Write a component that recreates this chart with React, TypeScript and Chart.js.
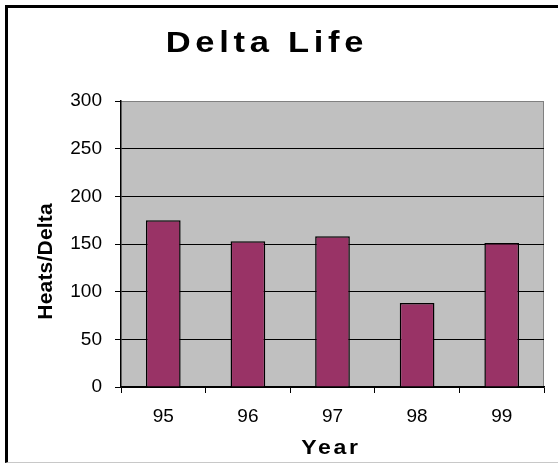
import React, { useEffect, useRef } from "react";
import { Chart, registerables } from "chart.js";

Chart.register(...registerables);

// ---- data ----
const chartTitle = "Delta Life";
const xAxisTitle = "Year";
const yAxisTitle = "Heats/Delta";
const years = ["95", "96", "97", "98", "99"];
const heatsPerDelta = [175, 153, 158, 88, 151];
const yMin = 0;
const yMax = 300;
const yStep = 50;

const FONT = '"Liberation Sans", Arial, sans-serif';

function spacedText(
  ctx: CanvasRenderingContext2D,
  text: string,
  cx: number,
  baseline: number,
  font: string,
  spacing: number,
  stretch: number,
  rotate = false
) {
  ctx.save();
  ctx.font = font;
  (ctx as any).letterSpacing = spacing + "px";
  ctx.fillStyle = "#000";
  ctx.textAlign = "left";
  ctx.textBaseline = "alphabetic";
  const w = ctx.measureText(text).width - spacing;
  if (rotate) {
    ctx.translate(baseline, cx);
    ctx.rotate(-Math.PI / 2);
    ctx.scale(stretch, 1);
    ctx.fillText(text, -w / 2, 0);
  } else {
    ctx.translate(cx, baseline);
    ctx.scale(stretch, 1);
    ctx.fillText(text, -w / 2, 0);
  }
  ctx.restore();
}

const plotBackground = {
  id: "plotBackground",
  beforeDraw(chart: any) {
    const { ctx, chartArea: a } = chart;
    ctx.save();
    ctx.fillStyle = "#c0c0c0";
    ctx.fillRect(a.left, a.top, a.right - a.left, a.bottom - a.top);
    ctx.strokeStyle = "#808080";
    ctx.lineWidth = 1;
    ctx.beginPath();
    ctx.moveTo(a.left, Math.round(a.top) + 0.5);
    ctx.lineTo(Math.round(a.right) - 0.5, Math.round(a.top) + 0.5);
    ctx.lineTo(Math.round(a.right) - 0.5, a.bottom);
    ctx.stroke();
    ctx.restore();
  },
};

const titles = {
  id: "titles",
  afterDraw(chart: any) {
    const { ctx, chartArea: a } = chart;
    const cx = (a.left + a.right) / 2;
    spacedText(ctx, chartTitle, cx - 68, 52, `bold 30px ${FONT}`, 4.1, 1.15);
    spacedText(ctx, xAxisTitle, cx - 3, 453.5, `bold 21px ${FONT}`, 2.4, 1.1);
    spacedText(ctx, yAxisTitle, 261.5, 52, `bold 20px ${FONT}`, 0.2, 1.05, true);
  },
};

export default function App() {
  const ref = useRef<HTMLCanvasElement | null>(null);

  useEffect(() => {
    if (!ref.current) return;
    const tickFont = { family: FONT, size: 19 };
    const chart = new Chart(ref.current, {
      type: "bar",
      data: {
        labels: years,
        datasets: [
          {
            label: yAxisTitle,
            data: heatsPerDelta,
            backgroundColor: "#993366",
            borderColor: "#000000",
            borderWidth: 1.5,
            barPercentage: 0.41,
            categoryPercentage: 1,
          },
        ],
      },
      options: {
        responsive: false,
        animation: false,
        layout: { padding: { top: 101, right: 14, bottom: 0, left: 0 } },
        plugins: {
          legend: { display: false },
          title: { display: false },
          tooltip: { enabled: false },
        },
        scales: {
          x: {
            grid: {
              offset: true,
              drawOnChartArea: false,
              drawTicks: true,
              tickLength: 6,
              tickColor: "#000",
              color: "#000",
            },
            border: { color: "#000", width: 1.5 },
            ticks: { color: "#000", font: tickFont, padding: 12, maxRotation: 0 },
            afterFit(scale: any) {
              scale.height = 77;
            },
          },
          y: {
            min: yMin,
            max: yMax,
            ticks: { stepSize: yStep, color: "#000", font: tickFont, padding: 13 },
            grid: {
              color: (c: any) => (c.tick && c.tick.value === yMax ? "#808080" : "#000"),
              tickColor: "#000",
              tickLength: 6,
              lineWidth: 1,
            },
            border: { color: "#000", width: 1.5 },
            afterFit(scale: any) {
              scale.width = 121;
            },
          },
        },
      },
      plugins: [plotBackground, titles],
    });
    return () => chart.destroy();
  }, []);

  return (
    <div
      style={{
        position: "fixed",
        left: 0,
        top: 0,
        width: 558,
        height: 464,
        background: "#fff",
        overflow: "hidden",
      }}
    >
      <div
        style={{
          position: "absolute",
          left: 5,
          top: 5,
          width: 560,
          height: 454,
          borderLeft: "3px solid #000",
          borderTop: "3px solid #000",
          borderBottom: "1px solid #c8c8c8",
        }}
      />
      <canvas
        ref={ref}
        width={558}
        height={464}
        style={{ position: "absolute", left: 0, top: 0, width: 558, height: 464 }}
      />
    </div>
  );
}
